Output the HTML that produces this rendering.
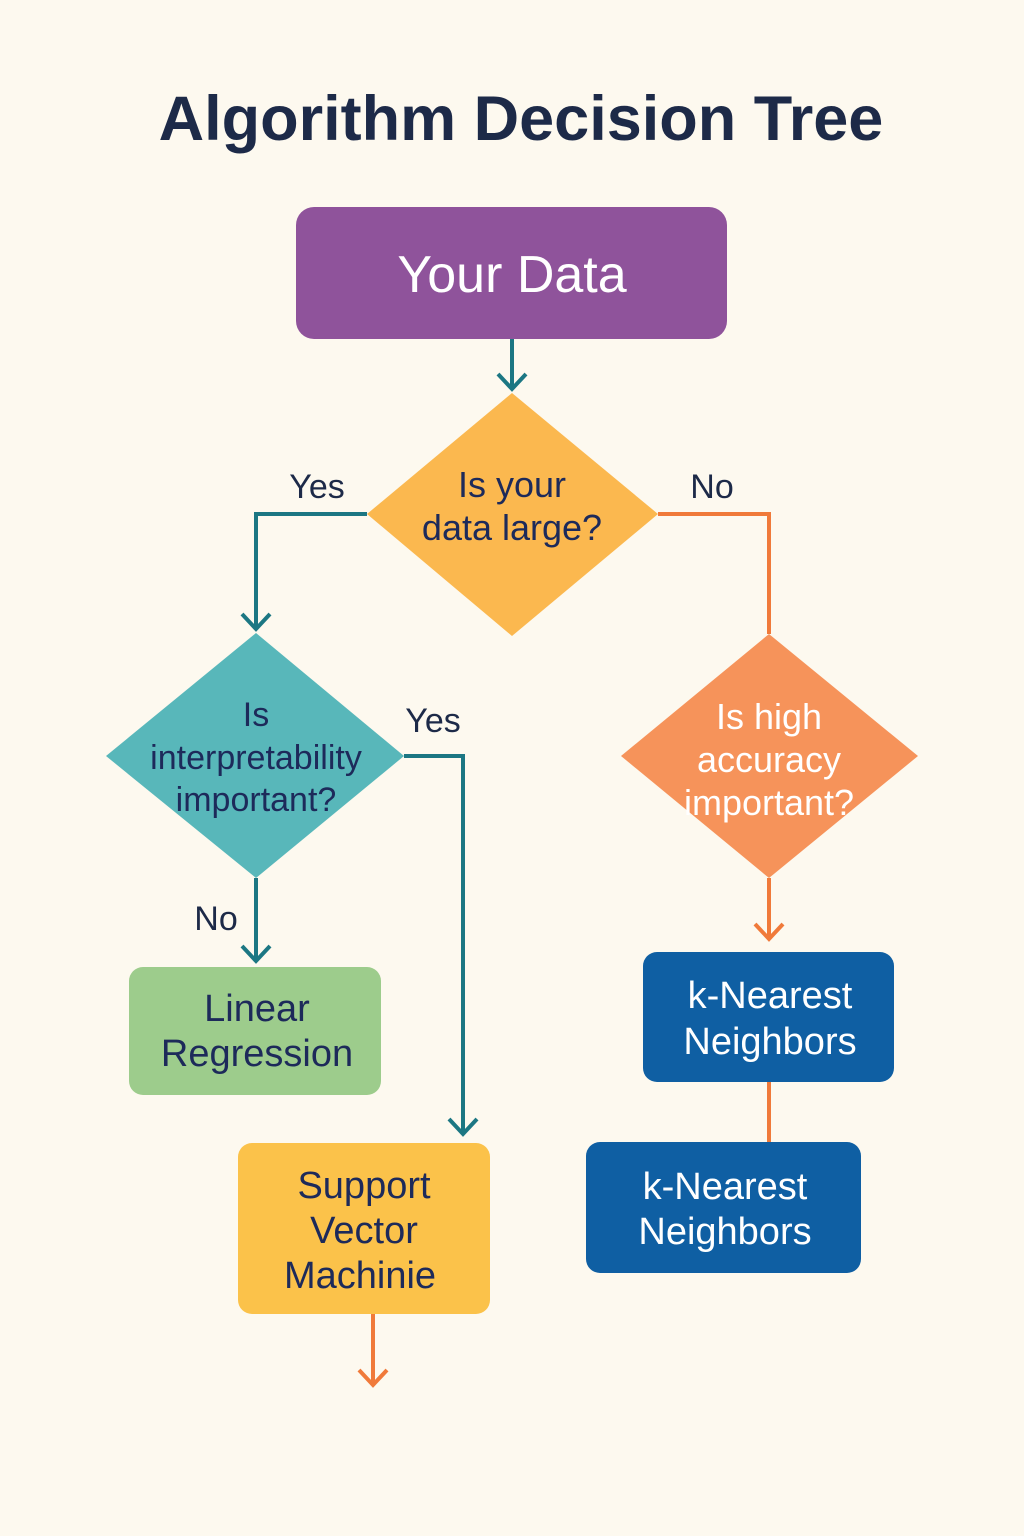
<!DOCTYPE html>
<html><head><meta charset="utf-8"><style>
html,body{margin:0;padding:0;background:#fdf9ef;}
svg{display:block;font-family:"Liberation Sans",sans-serif;}
</style></head><body>
<svg width="1024" height="1536" viewBox="0 0 1024 1536" xmlns="http://www.w3.org/2000/svg">
<rect width="1024" height="1536" fill="#fdf9ef"/>
<text x="521" y="140" font-size="63" font-weight="bold" fill="#1d2a48" text-anchor="middle">Algorithm Decision Tree</text>

<rect x="296" y="207" width="431" height="132" rx="18" fill="#8f539b"/>
<text x="512" y="292" font-size="52" fill="#fff" text-anchor="middle">Your Data</text>

<g fill="none" stroke-width="4" stroke-linejoin="miter">
<path d="M512 339V388" stroke="#1c7783"/>
<path d="M498 374L512 389L526 374" stroke="#1c7783"/>
<path d="M367 514H256V628" stroke="#1c7783"/>
<path d="M242 614L256 629L270 614" stroke="#1c7783"/>
<path d="M658 514H769V634" stroke="#f07a3a"/>
<path d="M404 756H463V1133" stroke="#1c7783"/>
<path d="M449 1119L463 1134L477 1119" stroke="#1c7783"/>
<path d="M256 878V960" stroke="#1c7783"/>
<path d="M242 946L256 961L270 946" stroke="#1c7783"/>
<path d="M769 878V938" stroke="#f07a3a"/>
<path d="M755 924L769 939L783 924" stroke="#f07a3a"/>
<path d="M769 1082V1142" stroke="#f07a3a"/>
<path d="M373 1314V1384" stroke="#f07a3a"/>
<path d="M359 1370L373 1385L387 1370" stroke="#f07a3a"/>
</g>

<polygon points="512,393 658,514 512,636 367,514" fill="#fbb84f"/>
<text font-size="36" fill="#1d2a5a" text-anchor="middle"><tspan x="512" y="497">Is your</tspan><tspan x="512" y="540">data large?</tspan></text>
<text x="317" y="498" font-size="34" fill="#1d2a48" text-anchor="middle">Yes</text>
<text x="712" y="498" font-size="34" fill="#1d2a48" text-anchor="middle">No</text>

<polygon points="256,633 404,756 256,878 106,756" fill="#58b7ba"/>
<text font-size="34" fill="#1d2a5a" text-anchor="middle"><tspan x="256" y="726">Is</tspan><tspan x="256" y="769">interpretability</tspan><tspan x="256" y="811">important?</tspan></text>
<text x="433" y="732" font-size="34" fill="#1d2a48" text-anchor="middle">Yes</text>
<text x="216" y="930" font-size="34" fill="#1d2a48" text-anchor="middle">No</text>

<polygon points="769,634 918,756 769,878 621,756" fill="#f6935a"/>
<text font-size="36" fill="#fff" text-anchor="middle"><tspan x="769" y="729">Is high</tspan><tspan x="769" y="772">accuracy</tspan><tspan x="769" y="815">important?</tspan></text>

<rect x="129" y="967" width="252" height="128" rx="14" fill="#9dcc8c"/>
<text font-size="38" fill="#1d2a5a" text-anchor="middle"><tspan x="257" y="1021">Linear</tspan><tspan x="257" y="1066">Regression</tspan></text>

<rect x="643" y="952" width="251" height="130" rx="14" fill="#0f5fa3"/>
<text font-size="38" fill="#fff" text-anchor="middle"><tspan x="770" y="1008">k-Nearest</tspan><tspan x="770" y="1054">Neighbors</tspan></text>

<rect x="586" y="1142" width="275" height="131" rx="14" fill="#0f5fa3"/>
<text font-size="38" fill="#fff" text-anchor="middle"><tspan x="725" y="1199">k-Nearest</tspan><tspan x="725" y="1244">Neighbors</tspan></text>

<rect x="238" y="1143" width="252" height="171" rx="14" fill="#fbc24a"/>
<text font-size="38" fill="#1d2a5a" text-anchor="middle"><tspan x="364" y="1198">Support</tspan><tspan x="364" y="1243">Vector</tspan><tspan x="360" y="1288">Machinie</tspan></text>
</svg>
</body></html>
